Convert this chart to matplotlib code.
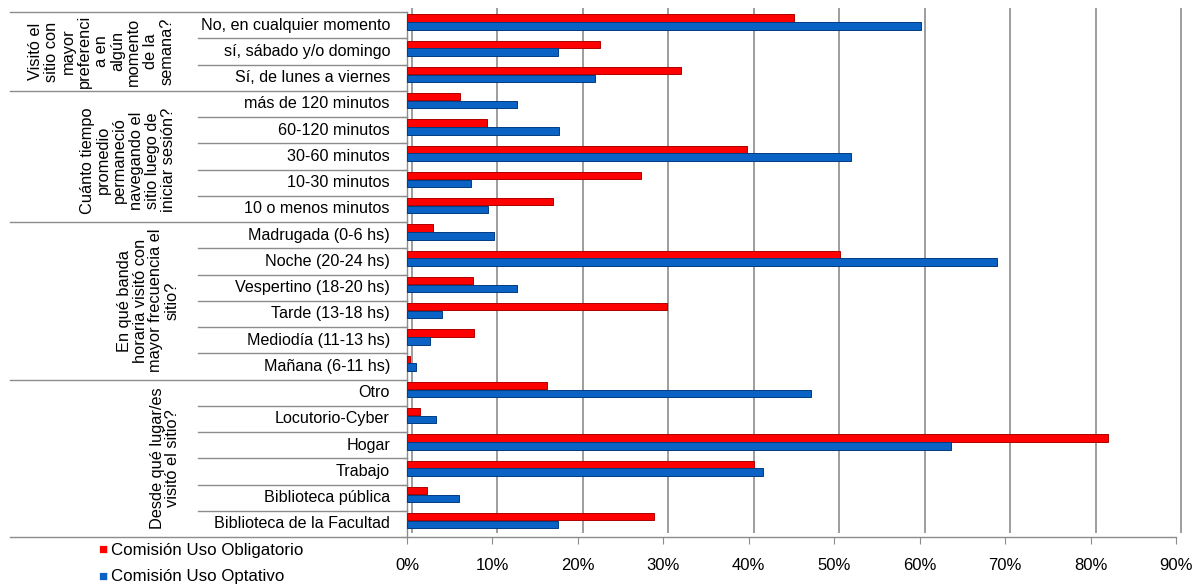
import matplotlib.pyplot as plt
import matplotlib.transforms as mtransforms
import numpy as np

plt.rcParams['font.family'] = ['Liberation Sans', 'DejaVu Sans']

# Group labels (rotated) and how many categories each one holds, top to bottom
group_labels = [
    "Visitó el\nsitio con\nmayor\npreferenci\na en\nalgún\nmomento\nde la\nsemana?",
    "Cuánto tiempo\npromedio\npermaneció\nnavegando el\nsitio luego de\niniciar sesión?",
    "En qué banda\nhoraria visitó con\nmayor frecuencia el\nsitio?",
    "Desde qué lugar/es\nvisitó el sitio?",
]
group_sizes = [3, 5, 6, 6]

categories = [
    "No, en cualquier momento", "sí, sábado y/o domingo", "Sí, de lunes a viernes",
    "más de 120 minutos", "60-120 minutos", "30-60 minutos", "10-30 minutos",
    "10 o menos minutos",
    "Madrugada (0-6 hs)", "Noche (20-24 hs)", "Vespertino (18-20 hs)",
    "Tarde (13-18 hs)", "Mediodía (11-13 hs)", "Mañana (6-11 hs)",
    "Otro", "Locutorio-Cyber", "Hogar", "Trabajo", "Biblioteca pública",
    "Biblioteca de la Facultad",
]

obligatorio = [45.3, 22.6, 32.1, 6.2, 9.4, 39.8, 27.4, 17.1,
               3.1, 50.7, 7.7, 30.4, 7.8, 0.3,
               16.4, 1.5, 82.0, 40.6, 2.3, 28.9]
optativo = [60.2, 17.7, 22.0, 12.9, 17.8, 52.0, 7.5, 9.5,
            10.2, 69.1, 12.9, 4.1, 2.7, 1.0,
            47.3, 3.4, 63.7, 41.7, 6.1, 17.7]

series_names = ["Comisión Uso Obligatorio", "Comisión Uso Optativo"]
xticks = list(range(0, 100, 10))

RED, RED_EDGE = '#FF0000', '#B00000'
BLUE, BLUE_EDGE = '#0A62C4', '#003B80'
GRID = '#8C8C8C'

W, H = 1193, 587
fig = plt.figure(figsize=(W / 100, H / 100), dpi=100)
ax = fig.add_axes([407 / W, (H - 537) / H, (1176 - 407) / W, (537 - 12) / H])

n = len(categories)
y = np.arange(n)
bh = 0.28
shift = -0.12
ax.barh(y + shift - 0.15, obligatorio, height=bh, color=RED,
        edgecolor=RED_EDGE, linewidth=0.7, zorder=3, label=series_names[0])
ax.barh(y + shift + 0.15, optativo, height=bh, color=BLUE,
        edgecolor=BLUE_EDGE, linewidth=0.7, zorder=3, label=series_names[1])

ax.set_ylim(n - 0.5, -0.5)
ax.set_xlim(0, 90)

# Back-wall gridlines, shifted a little right/up like the 3D original
back = mtransforms.offset_copy(ax.transData, fig=fig, x=5, y=4, units='dots')
ax.vlines(xticks, n - 0.5, -0.5, colors=GRID, linewidth=1.2,
          transform=back, zorder=1, clip_on=False)

for s in ['top', 'right']:
    ax.spines[s].set_visible(False)
for s in ['left', 'bottom']:
    ax.spines[s].set_color(GRID)
    ax.spines[s].set_linewidth(1.0)

ax.set_xticks(xticks)
ax.set_xticklabels([f"{t}%" for t in xticks], fontsize=12)
ax.tick_params(axis='x', length=5, color=GRID, pad=10)
ax.set_yticks(np.arange(-0.5, n, 1.0))
ax.set_yticklabels([])
ax.tick_params(axis='y', length=4, color=GRID)

# Left hierarchical category area
blend = mtransforms.blended_transform_factory(fig.transFigure, ax.transData)
for i, cat in enumerate(categories):
    ax.text(390 / W, i, cat, transform=blend, ha='right', va='center',
            fontsize=11.6, clip_on=False)

start = 0
bounds = [-0.5]
for g, size in zip(group_labels, group_sizes):
    end = start + size
    for b in range(start + 1, end):
        ax.plot([198 / W, 407 / W], [b - 0.5, b - 0.5], color=GRID, lw=1,
                transform=blend, clip_on=False)
    bounds.append(end - 0.5)
    start = end

for b in bounds:
    ax.plot([10 / W, 407 / W], [b, b], color=GRID, lw=1,
            transform=blend, clip_on=False)

group_x = [101, 128, 148, 165]
group_dy = [0.0, 0.15, 0.0, 0.0]
group_ls = [1.12, 1.1, 1.08, 1.05]
start = 0
for g, size, gx, dy, ls in zip(group_labels, group_sizes, group_x, group_dy,
                               group_ls):
    mid = start + (size - 1) / 2 + dy
    ax.text(gx / W, mid, g, transform=blend, rotation=90, ha='center',
            va='center', multialignment='center', fontsize=11.8,
            linespacing=ls, clip_on=False)
    start += size

# Legend at the bottom left
fig.text(98 / W, (H - 550) / H, "■", color=RED, fontsize=11, va='center')
fig.text(111 / W, (H - 550) / H, series_names[0], fontsize=12.2, va='center')
fig.text(98 / W, (H - 577) / H, "■", color=BLUE, fontsize=11, va='center')
fig.text(111 / W, (H - 577) / H, series_names[1], fontsize=12.2, va='center')

fig.savefig('out.png', dpi=100)
